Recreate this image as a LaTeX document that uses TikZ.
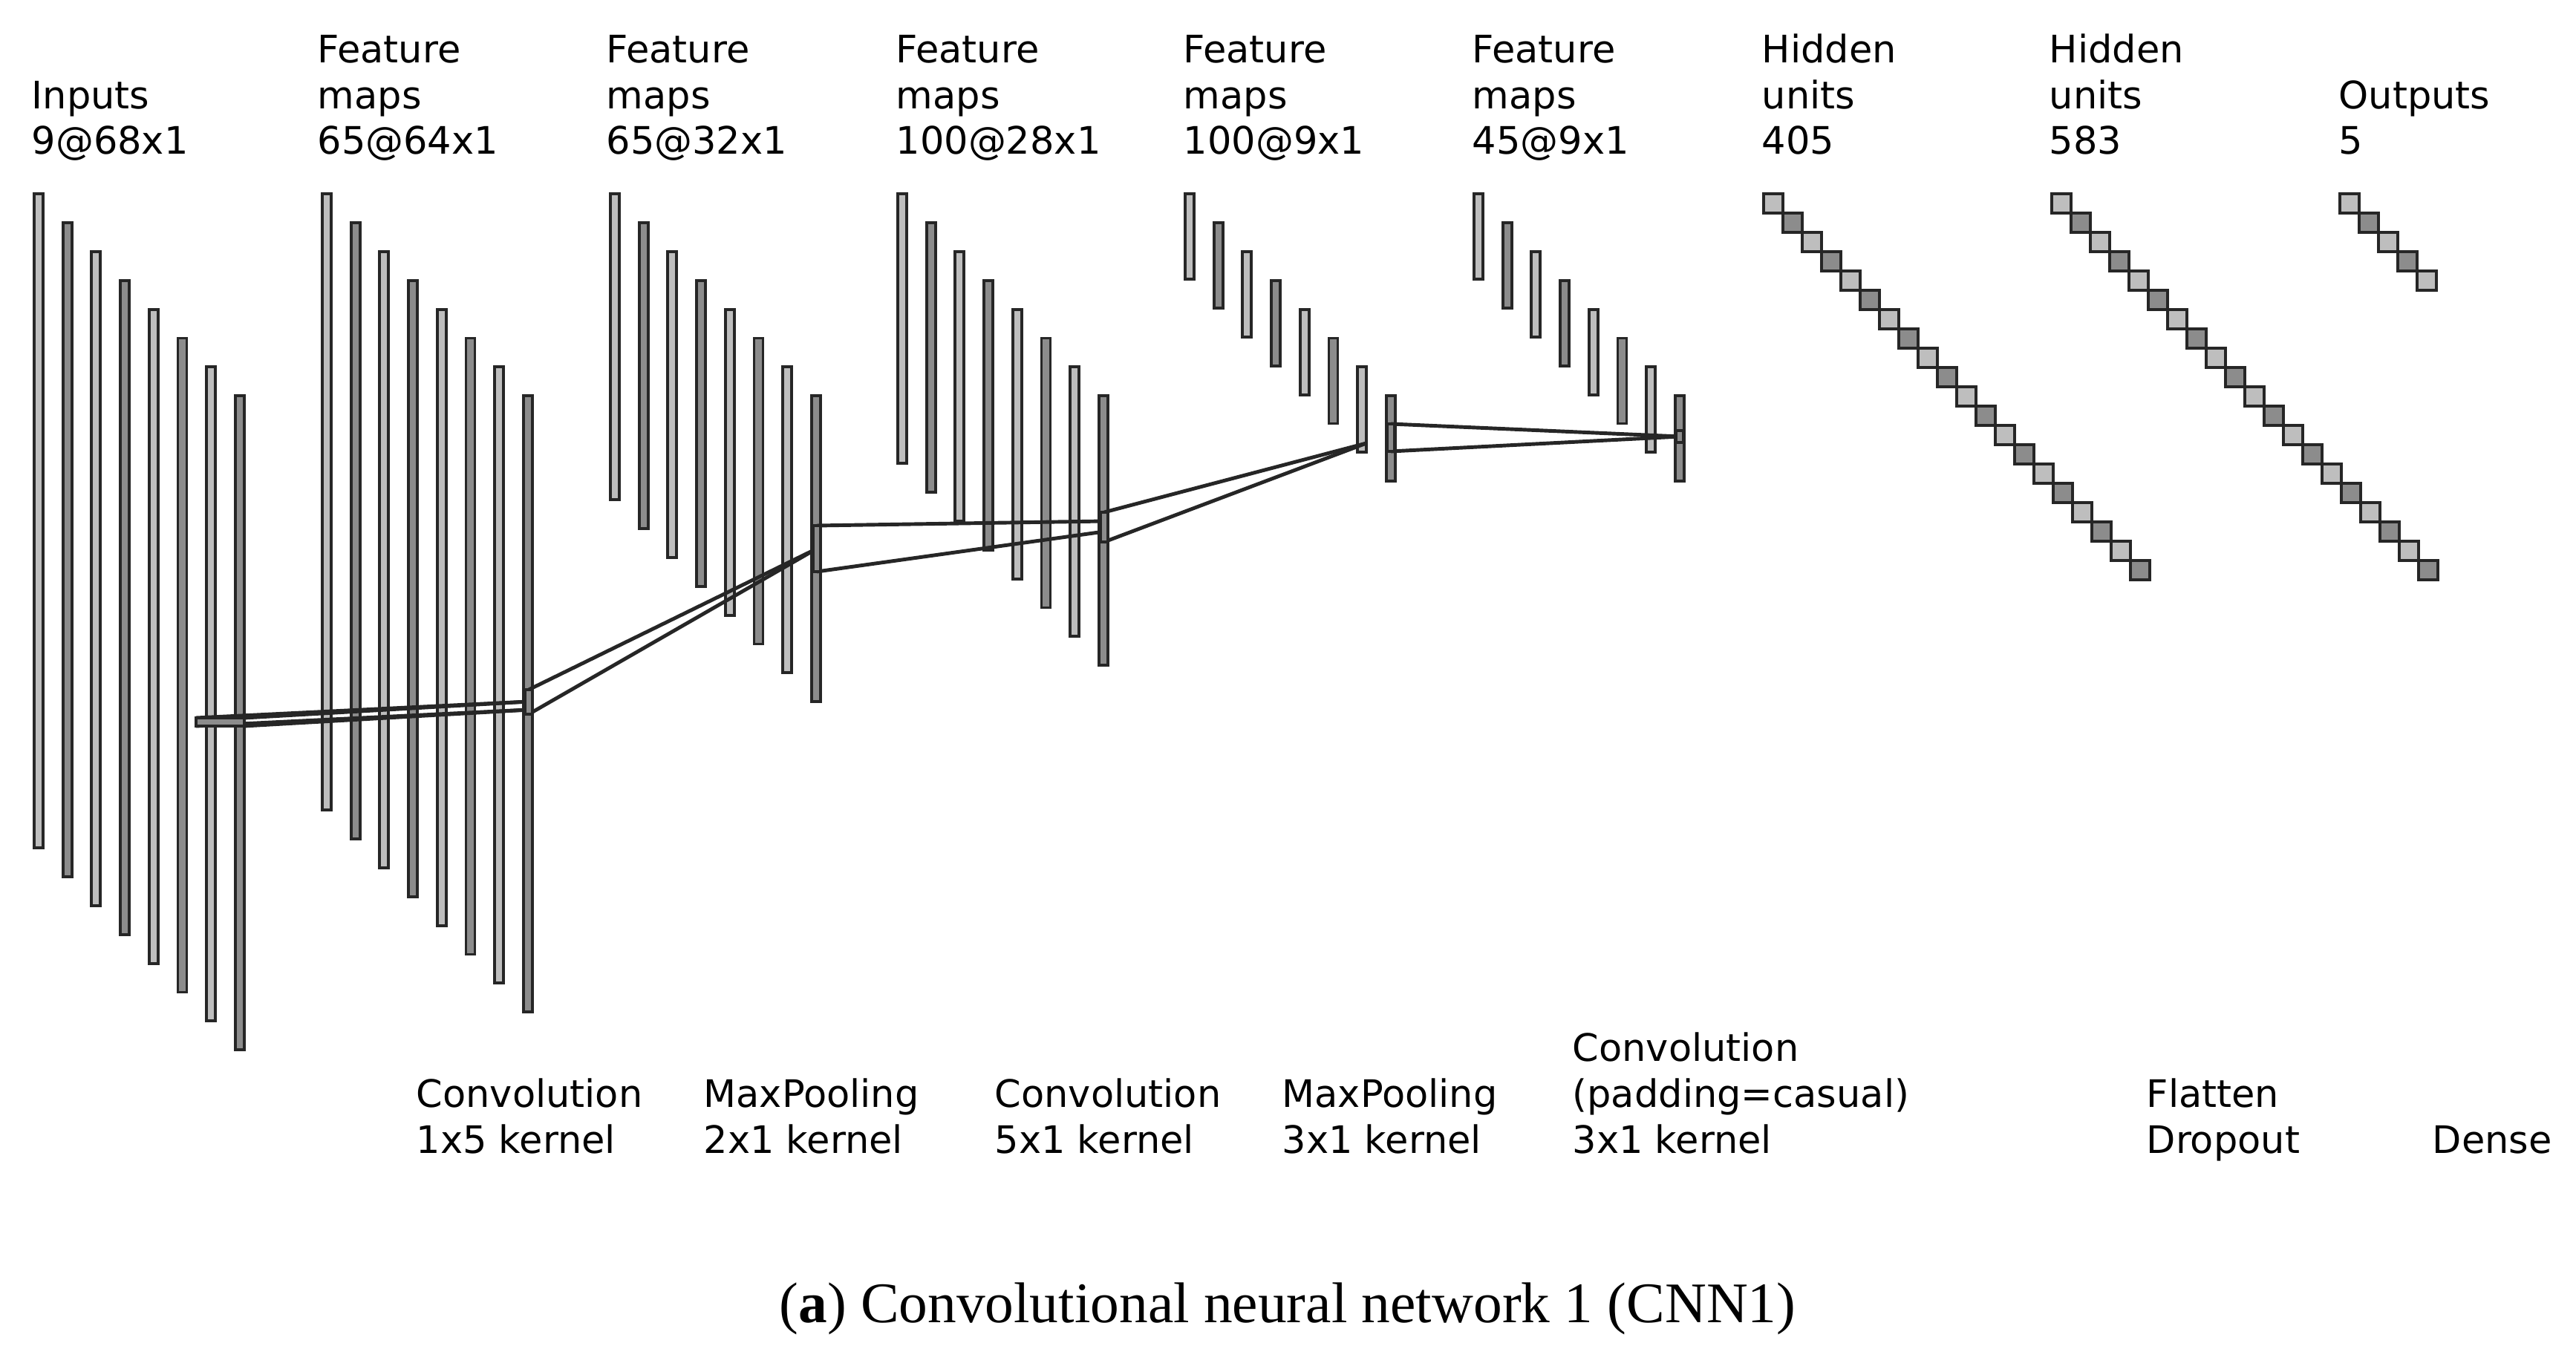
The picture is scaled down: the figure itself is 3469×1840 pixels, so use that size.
\documentclass[tikz,border=0pt]{standalone}
\usepackage{fontspec}
\setmainfont{Liberation Serif}
\newfontfamily\lab{DejaVu Sans}
\definecolor{lgray}{HTML}{BEBEBE}
\definecolor{dgray}{HTML}{8C8C8C}
\begin{document}
\begin{tikzpicture}[x=0.01cm,y=-0.01cm,
  bar/.style={draw=black!85,line width=1.1pt},
  sq/.style={draw=black!85,line width=1.3pt},
  conn/.style={draw=black!85,line width=1.4pt},
  patch/.style={draw=black!85,line width=1.2pt,fill=dgray},
  lbl/.style={anchor=base west,align=left,font=\lab\fontsize{14.5}{17.6}\selectfont,inner sep=0pt},
  captxt/.style={anchor=base,font=\fontsize{22}{26}\selectfont,inner sep=0pt}]
\useasboundingbox (0,0) rectangle (3469,1840);
% feature map bars
\foreach \x/\h in {52/881,440/830,828/412,1215/363,1602/115,1991/115}{
  \foreach \j in {0,...,7}{
    \ifodd\j \def\c{dgray}\else\def\c{lgray}\fi
    \draw[bar,fill=\c] ({\x+\j*38.7-6},{261+\j*38.9}) rectangle ({\x+\j*38.7+6},{261+\j*38.9+\h});
  }
}
% dense units
\foreach \x/\n in {2375/19,2763/19,3151/4}{
  \foreach \i in {0,...,\n}{
    \ifodd\i \def\c{dgray}\else\def\c{lgray}\fi
    \draw[sq,fill=\c] ({\x+\i*26},{261+\i*26}) rectangle ({\x+\i*26+26},{287+\i*26});
  }
}
% connector coordinates
\coordinate (p1a) at (264,967); \coordinate (p1b) at (264,978);
\coordinate (p1c) at (329,967); \coordinate (p1d) at (329,978);
\coordinate (q2a) at (712,945); \coordinate (q2b) at (712,956);
\coordinate (p2a) at (712,929); \coordinate (p2b) at (712,962);
\coordinate (q3) at (1100,739);
\coordinate (p3a) at (1100,708); \coordinate (p3b) at (1100,770);
\coordinate (q4a) at (1487,702); \coordinate (q4b) at (1487,716);
\coordinate (p4a) at (1487,690); \coordinate (p4b) at (1487,730);
\coordinate (q5) at (1840,597);
\coordinate (p5a) at (1873,571); \coordinate (p5b) at (1873,608);
\coordinate (q6) at (2262,588);
\draw[conn] (p1a) -- (q2a); \draw[conn] (p1b) -- (q2b);
\draw[conn] (p1c) -- (q2a); \draw[conn] (p1d) -- (q2b);
\draw[conn] (p2a) -- (q3); \draw[conn] (p2b) -- (q3);
\draw[conn] (p3a) -- (q4a); \draw[conn] (p3b) -- (q4b);
\draw[conn] (p4a) -- (q5); \draw[conn] (p4b) -- (q5);
\draw[conn] (p5a) -- (q6); \draw[conn] (p5b) -- (q6);
\draw[patch] (264,967) rectangle (329,978);
\draw[patch] (707,929) rectangle (717,962);
\draw[patch] (1095,708) rectangle (1105,770);
\draw[patch] (1482,690) rectangle (1492,730);
\draw[patch] (1868,571) rectangle (1878,608);
\draw[patch] (2257,580) rectangle (2267,596);
% top labels (anchored at last-line baseline)
\node[lbl] (t1) at (42,208) {Inputs\\9@68x1};
\node[lbl] (t2) at (427,208) {Feature\\maps\\65@64x1};
\node[lbl] (t3) at (816,208) {Feature\\maps\\65@32x1};
\node[lbl] (t4) at (1206,208) {Feature\\maps\\100@28x1};
\node[lbl] (t5) at (1593,208) {Feature\\maps\\100@9x1};
\node[lbl] (t6) at (1982,208) {Feature\\maps\\45@9x1};
\node[lbl] (t7) at (2372,208) {Hidden\\units\\405};
\node[lbl] (t8) at (2759,208) {Hidden\\units\\583};
\node[lbl] (t9) at (3149,208) {Outputs\\5};
% bottom labels
\node[lbl] (o1) at (560,1553) {Convolution\\1x5 kernel};
\node[lbl] (o2) at (947,1553) {MaxPooling\\2x1 kernel};
\node[lbl] (o3) at (1339,1553) {Convolution\\5x1 kernel};
\node[lbl] (o4) at (1726,1553) {MaxPooling\\3x1 kernel};
\node[lbl] (o5) at (2117,1553) {Convolution\\(padding=casual)\\3x1 kernel};
\node[lbl] (o6) at (2890,1553) {Flatten\\Dropout};
\node[lbl] (o7) at (3275,1553) {Dense};
\node[captxt] (cap) at (1734,1781) {(\textbf{a}) Convolutional neural network 1 (CNN1)};
\end{tikzpicture}
\end{document}
